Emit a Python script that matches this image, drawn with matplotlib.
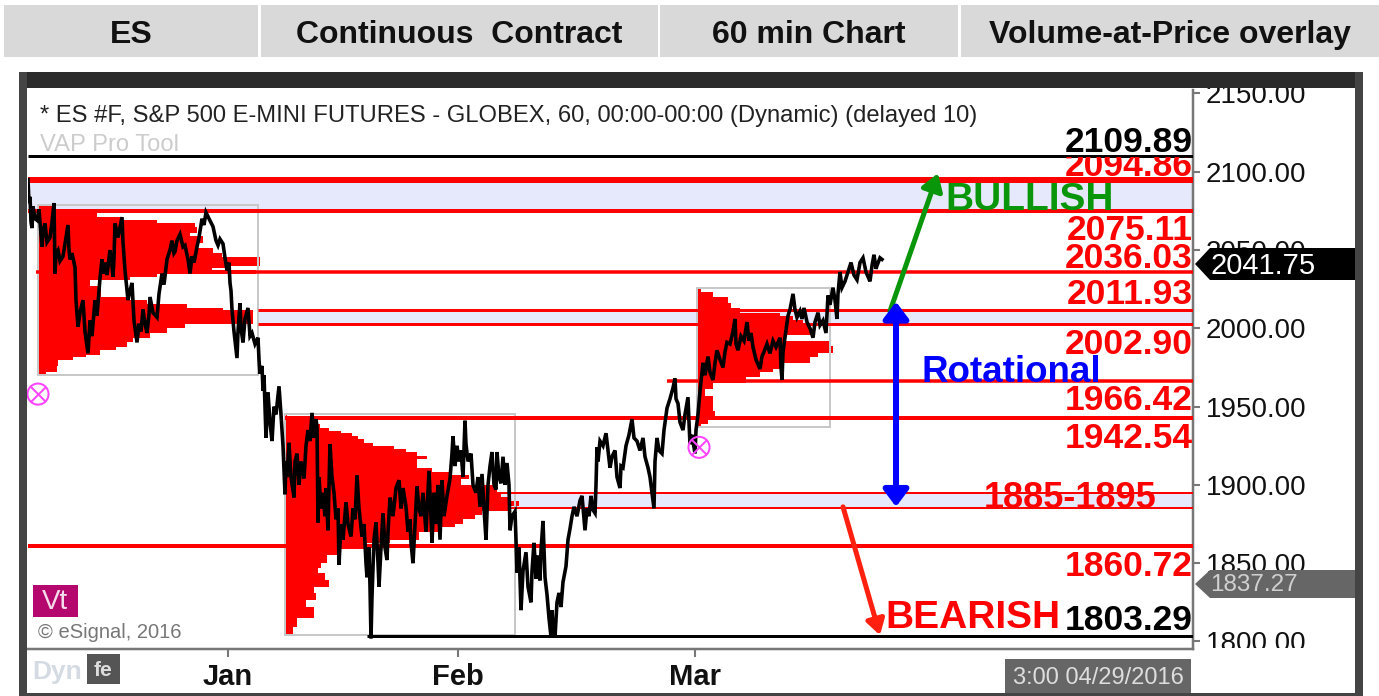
#!/usr/bin/env python3
from __future__ import annotations

import matplotlib
matplotlib.use("Agg")
import matplotlib.pyplot as plt
from matplotlib.patches import Polygon, Rectangle
from matplotlib.transforms import Bbox

WIDTH = 1379
HEIGHT = 696

header_labels = ["ES", "Continuous  Contract", "60 min Chart", "Volume-at-Price overlay"]
y_ticks = [1800, 1850, 1900, 1950, 2000, 2050, 2100, 2150]
month_names = ["Jan", "Feb", "Mar"]
month_pos = [228, 458, 695]

# x is the bar position on the time axis, y is the price
price_x = [
    28, 29, 30, 31, 32, 33, 35, 37, 39, 42,
    43, 45, 47, 50, 52, 54, 55, 56, 58, 60,
    63, 65, 68, 69, 70, 72, 75, 76, 78, 80,
    83, 85, 88, 90, 92, 95, 97, 100, 102, 103,
    105, 107, 110, 112, 113, 114, 115, 118, 122, 123,
    125, 127, 128, 130, 132, 134, 137, 139, 141, 143,
    145, 147, 149, 150, 153, 157, 159, 162, 164, 167,
    170, 172, 174, 175, 177, 180, 183, 185, 188, 190,
    192, 194, 197, 199, 202, 204, 206, 209, 213, 216,
    218, 220, 223, 225, 227, 229, 230, 231, 232, 234,
    237, 238, 240, 241, 243, 245, 248, 250, 252, 255,
    258, 259, 260, 262, 263, 264, 266, 268, 270, 272,
    274, 276, 279, 281, 283, 285, 286, 287, 289, 291,
    294, 295, 297, 299, 301, 304, 306, 308, 310, 312,
    314, 316, 317, 318, 319, 321, 323, 325, 326, 328,
    329, 330, 332, 334, 336, 338, 339, 341, 343, 346,
    348, 351, 353, 355, 357, 359, 362, 364, 366, 367,
    369, 370, 371, 372, 374, 376, 378, 379, 381, 383,
    385, 387, 388, 390, 393, 396, 399, 401, 403, 406,
    408, 410, 411, 413, 415, 417, 419, 421, 423, 426,
    429, 431, 432, 434, 436, 438, 440, 442, 444, 447,
    450, 452, 453, 455, 457, 459, 461, 463, 465, 466,
    468, 471, 473, 476, 478, 480, 482, 484, 486, 488,
    490, 492, 494, 496, 497, 499, 501, 503, 505, 507,
    509, 510, 512, 515, 516, 517, 519, 521, 523, 526,
    528, 531, 532, 534, 536, 538, 540, 541, 543, 545,
    547, 549, 551, 552, 553, 555, 557, 559, 561, 563,
    566, 568, 570, 572, 574, 577, 580, 582, 585, 587,
    589, 591, 593, 595, 596, 597, 598, 600, 603, 606,
    608, 610, 612, 615, 617, 620, 621, 623, 626, 629,
    632, 634, 637, 640, 643, 645, 648, 650, 652, 654,
    655, 657, 659, 662, 664, 667, 670, 673, 675, 676,
    678, 680, 683, 685, 688, 689, 690, 692, 695, 696,
    698, 700, 703, 705, 708, 710, 713, 715, 717, 720,
    723, 725, 727, 730, 733, 735, 736, 738, 741, 744,
    747, 749, 751, 753, 756, 760, 762, 764, 767, 770,
    773, 776, 780, 781, 782, 783, 785, 788, 790, 793,
    795, 797, 800, 802, 804, 807, 810, 813, 815, 818,
    820, 823, 826, 828, 830, 833, 835, 837, 838, 840,
    842, 845, 848, 851, 854, 857, 860, 863, 866, 870,
    872, 874, 876, 877, 880, 882,
]
price_y = [
    2095, 2080, 2084, 2068, 2064, 2078, 2070, 2069, 2076, 2052,
    2062, 2067, 2055, 2058, 2068, 2080, 2035, 2048, 2050, 2043,
    2046, 2054, 2066, 2050, 2044, 2048, 2039, 2018, 2001, 2010,
    2018, 1998, 1984, 2005, 1995, 2018, 2008, 2032, 2044, 2035,
    2042, 2034, 2050, 2040, 2033, 2045, 2067, 2058, 2071, 2055,
    2037, 2024, 2018, 2024, 2029, 2005, 1991, 2003, 1998, 2012,
    2003, 1997, 2009, 2020, 2010, 2007, 2022, 2035, 2028, 2044,
    2050, 2056, 2048, 2049, 2056, 2060, 2052, 2053, 2044, 2035,
    2046, 2042, 2052, 2058, 2070, 2066, 2074, 2070, 2065, 2056,
    2053, 2057, 2054, 2045, 2037, 2042, 2029, 2024, 2012, 1998,
    1981, 1998, 2016, 2000, 1991, 2006, 2013, 1995, 1997, 1990,
    1994, 1980, 1971, 1976, 1960, 1970, 1930, 1959, 1940, 1928,
    1950, 1945, 1963, 1945, 1925, 1894, 1915, 1905, 1927, 1905,
    1892, 1915, 1920, 1900, 1915, 1904, 1925, 1935, 1928, 1946,
    1930, 1942, 1937, 1876, 1905, 1885, 1895, 1880, 1898, 1871,
    1900, 1926, 1905, 1895, 1878, 1885, 1849, 1875, 1865, 1889,
    1875, 1867, 1885, 1878, 1906, 1885, 1867, 1875, 1850, 1841,
    1860, 1835, 1802, 1829, 1865, 1876, 1850, 1835, 1860, 1882,
    1860, 1852, 1870, 1892, 1880, 1898, 1903, 1885, 1898, 1886,
    1870, 1878, 1863, 1850, 1875, 1899, 1885, 1880, 1895, 1870,
    1909, 1880, 1863, 1895, 1875, 1900, 1865, 1903, 1880, 1893,
    1904, 1920, 1931, 1912, 1925, 1915, 1922, 1905, 1941, 1926,
    1915, 1920, 1900, 1895, 1905, 1886, 1907, 1885, 1865, 1900,
    1912, 1921, 1900, 1897, 1921, 1905, 1901, 1918, 1900, 1914,
    1900, 1871, 1880, 1883, 1865, 1844, 1860, 1820, 1845, 1857,
    1835, 1825, 1845, 1863, 1840, 1855, 1839, 1858, 1877, 1841,
    1830, 1815, 1803, 1820, 1808, 1803, 1825, 1831, 1822, 1838,
    1848, 1865, 1872, 1880, 1886, 1880, 1890, 1893, 1871, 1885,
    1880, 1893, 1884, 1882, 1900, 1924, 1915, 1928, 1925, 1933,
    1922, 1911, 1918, 1922, 1905, 1898, 1912, 1911, 1925, 1932,
    1942, 1930, 1928, 1922, 1930, 1918, 1911, 1905, 1895, 1885,
    1915, 1930, 1922, 1920, 1935, 1949, 1955, 1962, 1968, 1955,
    1952, 1940, 1935, 1945, 1956, 1940, 1926, 1932, 1920, 1935,
    1945, 1960, 1978, 1970, 1982, 1972, 1967, 1978, 1986, 1980,
    1975, 1985, 1991, 1990, 1998, 2006, 1990, 1986, 1995, 1992,
    2004, 1992, 1997, 1988, 1980, 1974, 1982, 1985, 1990, 1984,
    1992, 1988, 1994, 1975, 1967, 1985, 1994, 2008, 2012, 2022,
    2012, 2007, 2011, 2006, 2013, 2004, 2000, 1994, 2004, 2010,
    2002, 2005, 1997, 2021, 2015, 2026, 2018, 2006, 2022, 2036,
    2026, 2030, 2036, 2042, 2034, 2031, 2042, 2045, 2036, 2030,
    2040, 2047, 2038, 2040, 2045, 2044,
]

# volume-at-price rows: price at the top of each row, row length in time-axis units
vap1_left, vap1_right = 38, 258
vap1_price = [
    2079, 2074, 2071, 2069, 2067, 2065, 2061, 2059, 2054.5, 2051, 2048, 2045.5, 2040, 2038.5, 2037, 2034.6, 2033, 2031,
    2027, 2020, 2018, 2015.5, 2013, 2011.5, 2002.5, 2000, 1997, 1994, 1991, 1988, 1986, 1983, 1981.5, 1979.5, 1975.7, 1972, 1970.5,
]
vap1_volume = [
    15, 59, 82, 119, 157, 159, 152, 165, 160, 175, 184, 222, 192, 174, 218, 119, 92, 52,
    63, 89, 109, 149, 185, 215, 147, 129, 112, 95, 89, 78, 62, 48, 35, 20, 19, 8, 0,
]
vap2_left, vap2_right = 285, 515
vap2_price = [
    1945.5, 1944, 1939, 1936.5, 1934.6, 1933, 1931.4, 1929.5, 1927, 1925, 1923, 1921, 1918.6, 1916.7, 1911, 1908, 1906.4,
    1904, 1900, 1894, 1892, 1889.5, 1886.5, 1883.5, 1881, 1878, 1875, 1873, 1870, 1865, 1863, 1859, 1855, 1850, 1847, 1844,
    1839.5, 1835, 1831, 1826.6, 1822, 1815, 1809, 1804,
]
vap2_volume = [
    2, 27, 35, 44, 56, 67, 73, 79, 88, 109, 121, 132, 142, 132, 147, 167, 184,
    176, 212, 216, 224, 234, 224, 197, 190, 178, 170, 155, 134, 105, 82, 54, 42, 36, 33, 40,
    44, 29, 31, 21, 29, 12, 8, 0,
]
vap3_left, vap3_right = 697, 830
vap3_price = [
    2025.6, 2023, 2020, 2016, 2013, 2010, 2008, 2005, 2002, 1995.5, 1992, 1989, 1984, 1981.4, 1978, 1974, 1972, 1968.6,
    1965, 1961.5, 1957, 1947.4, 1943, 1939, 1937,
]
vap3_volume = [
    4, 16, 31, 34, 43, 83, 96, 106, 113, 89, 133, 136, 121, 113, 83, 76, 63, 49,
    16, 8, 16, 18, 11, 4, 0,
]

# support / resistance levels
red_levels = [2094.86, 2075.11, 2036.03, 2011.93, 2002.90, 1966.42, 1942.54, 1895, 1885, 1860.72]
red_starts = [28, 28, 36, 258, 258, 667, 285, 497, 497, 28]
red_widths_px = [6, 4, 3.5, 3, 3, 3.5, 4, 2, 2, 4]
black_levels = [2109.89, 1803.29]
black_starts = [28, 367]
bands = [(2094.86, 2075.11, 28), (2011.93, 2002.90, 258), (1895, 1885, 497)]

signal_x = [38, 699]
signal_y = [1958, 1924]


def px(value: float) -> float:
    # pixel length to points at dpi 100
    return value * 0.72


def draw_frame(over) -> None:
    for left, right in [(4, 258), (261, 658), (660, 958), (961, 1379)]:
        over.add_patch(Rectangle((left, 5), right - left, 52, color="#d9d9d9", lw=0))
    for label, center in zip(header_labels, [131, 459, 809, 1170]):
        over.text(center, 35, label, ha="center", va="center", fontsize=23, fontweight="bold", color="#111111")

    over.add_patch(Rectangle((19, 72), 1344, 16, color="#2b2b2b", lw=0))
    over.add_patch(Rectangle((19, 72), 8, 624, color="#444444", lw=0))
    over.add_patch(Rectangle((1355, 72), 8, 624, color="#444444", lw=0))
    over.add_patch(Rectangle((19, 693), 1344, 3, color="#444444", lw=0))
    # bottom tick label is cut off in the original
    over.add_patch(Rectangle((1200, 648), 150, 14, color="white", lw=0))


def draw_texts(over) -> None:
    over.text(40, 116, "* ES #F, S&P 500 E-MINI FUTURES - GLOBEX, 60, 00:00-00:00 (Dynamic) (delayed 10)",
              va="center", fontsize=17.1, color="#222222")
    over.text(40, 145, "VAP Pro Tool", va="center", fontsize=17.1, color="#cccccc")

    red_labels = [
        ("2094.86", 167), ("2075.11", 230), ("2036.03", 258), ("2011.93", 295),
        ("2002.90", 344), ("1966.42", 401), ("1942.54", 438), ("1860.72", 567),
    ]
    for label, y in red_labels:
        text = over.text(1193, y, label, ha="right", va="center", fontsize=25.5, fontweight="bold", color="#ff0000")
        if label == "2094.86":
            text.set_clip_box(Bbox.from_extents(0, 0, WIDTH, HEIGHT - 157))
            text.set_clip_on(True)
    over.text(1193, 143, "2109.89", ha="right", va="center", fontsize=25.5, fontweight="bold", color="black")
    over.text(1193, 621, "1803.29", ha="right", va="center", fontsize=25.5, fontweight="bold", color="black")
    over.text(1157, 499, "1885-1895", ha="right", va="center", fontsize=26, fontweight="bold", color="#ff0000")
    over.text(945, 200, "BULLISH", va="center", fontsize=28, fontweight="bold", color="#0a960a")
    over.text(885, 618, "BEARISH", va="center", fontsize=28, fontweight="bold", color="#ff0000")
    over.text(921, 372, "Rotational", va="center", fontsize=26.5, fontweight="bold", color="#0000ff")

    over.add_patch(Polygon([(1195, 264), (1210, 248), (1355, 248), (1355, 280), (1210, 280)], color="black", lw=0))
    over.text(1210, 266, "2041.75", va="center", fontsize=21, color="white")
    over.add_patch(Polygon([(1195, 584), (1210, 570), (1355, 570), (1355, 598), (1210, 598)], color="#666666", lw=0))
    over.text(1210, 585, "1837.27", va="center", fontsize=17.5, color="#d0d0d0")

    over.add_patch(Rectangle((1005, 659), 186, 34, color="#666666", lw=0))
    over.text(1098, 678, "3:00 04/29/2016", ha="center", va="center", fontsize=17, color="#dddddd")

    over.add_patch(Rectangle((33, 585), 45, 32, color="#b5086e", lw=0))
    over.text(55, 602, "Vt", ha="center", va="center", fontsize=20, color="#f5dcea")
    over.text(38, 632, "\u00a9 eSignal, 2016", va="center", fontsize=14.5, color="#777777")
    over.text(32, 672, "Dyn", va="center", fontsize=19, color="#d5dbe3", fontweight="bold")
    over.add_patch(Rectangle((87, 654), 33, 30, color="#555555", lw=0))
    over.text(103, 671, "fe", ha="center", va="center", fontsize=15, color="#dddddd", fontweight="bold")


def draw_chart(ax) -> None:
    for top, bottom, start in bands:
        ax.fill_between([start, 1193], bottom, top, color="#e6e8fb", lw=0, zorder=1)

    for left, rows, volume in [
        (vap1_left, vap1_price, vap1_volume),
        (vap2_left, vap2_price, vap2_volume),
        (vap3_left, vap3_price, vap3_volume),
    ]:
        right_edge = [left + v for v in volume]
        ax.fill_betweenx(rows, left, right_edge, step="post", color="#ff0000", lw=0, zorder=2)

    for left, right, rows in [
        (vap1_left, vap1_right, vap1_price),
        (vap2_left, vap2_right, vap2_price),
        (vap3_left, vap3_right, vap3_price),
    ]:
        ax.add_patch(Rectangle((left, rows[-1]), right - left, rows[0] - rows[-1], fill=False,
                               ec="#c8c8c8", lw=px(2), zorder=2.5))

    for level, start, width in zip(red_levels, red_starts, red_widths_px):
        ax.hlines(level, start, 1193, color="#ff0000", lw=px(width), zorder=3)
    for level, start in zip(black_levels, black_starts):
        ax.hlines(level, start, 1193, color="black", lw=px(3), zorder=3)

    ax.plot(price_x, price_y, color="black", lw=px(3.6), solid_joinstyle="miter", zorder=4)

    ax.scatter(signal_x, signal_y, s=230, facecolor="none", edgecolor="#ff44ff", lw=px(2), zorder=5, clip_on=False)
    ax.scatter(signal_x, signal_y, s=110, marker="x", color="#ff44ff", lw=px(2), zorder=5, clip_on=False)

    ax.annotate("", xy=(938, 2099), xytext=(890, 2011), zorder=6,
                arrowprops=dict(arrowstyle="-|>,head_length=1.0,head_width=0.65", color="#0a960a", lw=px(5), shrinkA=0, shrinkB=0))
    ax.annotate("", xy=(880, 1804), xytext=(843, 1886), zorder=6,
                arrowprops=dict(arrowstyle="-|>,head_length=0.9,head_width=0.55", color="#ff2010", lw=px(5), shrinkA=0, shrinkB=0))
    ax.annotate("", xy=(896, 2017), xytext=(896, 1886), zorder=6,
                arrowprops=dict(arrowstyle="<|-|>,head_length=1.0,head_width=0.75", color="#0000ff", lw=px(6), shrinkA=0, shrinkB=0))

    ax.set_xlim(28, 1193)
    ax.set_ylim(1795.2, 2152.2)
    ax.yaxis.tick_right()
    ax.set_yticks(y_ticks)
    ax.set_yticklabels([f"{t:.2f}" for t in y_ticks], fontsize=20, color="#111111")
    ax.set_xticks(month_pos)
    ax.set_xticklabels(month_names, fontsize=21, fontweight="bold", color="#111111")
    ax.tick_params(axis="y", length=5, width=1.5, color="#777777", pad=4)
    ax.tick_params(axis="x", length=6, width=1.5, color="#777777", pad=4)
    for side in ["top", "left"]:
        ax.spines[side].set_visible(False)
    for side in ["right", "bottom"]:
        ax.spines[side].set_color("#777777")
        ax.spines[side].set_linewidth(px(2.5))


def main() -> None:
    plt.rcParams["font.family"] = ["Liberation Sans", "DejaVu Sans"]
    fig = plt.figure(figsize=(WIDTH / 100, HEIGHT / 100), dpi=100, facecolor="white")

    ax = fig.add_axes([28 / WIDTH, 1 - 649 / HEIGHT, (1193 - 28) / WIDTH, (649 - 90) / HEIGHT])
    draw_chart(ax)

    over = fig.add_axes([0, 0, 1, 1], facecolor="none")
    over.set_xlim(0, WIDTH)
    over.set_ylim(HEIGHT, 0)
    over.axis("off")
    draw_frame(over)
    draw_texts(over)

    fig.savefig("out.png", dpi=100)
    plt.close(fig)


if __name__ == "__main__":
    main()
